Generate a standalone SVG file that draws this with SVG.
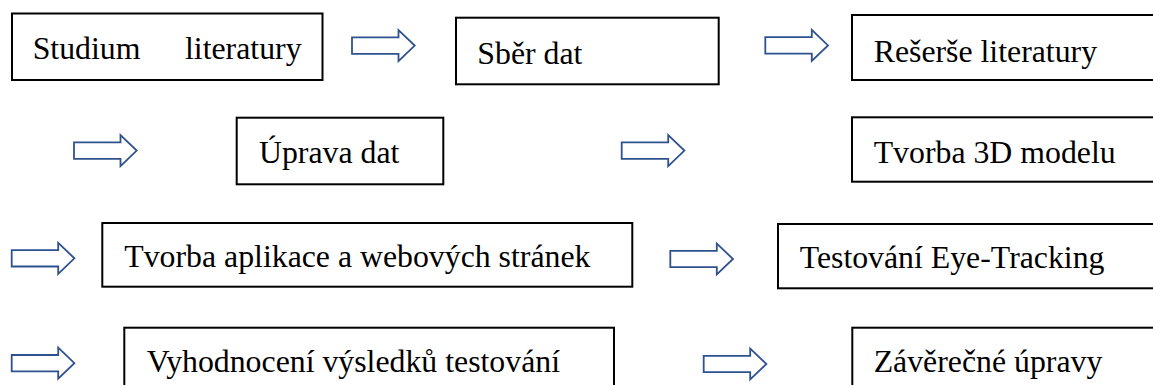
<svg xmlns="http://www.w3.org/2000/svg" xmlns:xlink="http://www.w3.org/1999/xlink" width="1153" height="385" viewBox="0 0 1153 385">
<style>
.box{fill:#fff;stroke:#000;stroke-width:2}
.lbl{font-family:"Liberation Serif","Times New Roman",serif;font-size:31.8px;fill:#000}
.arr{fill:#fff;stroke:#2F528F;stroke-width:1.8;stroke-linejoin:miter}
</style>
<defs>
<path id="arrow" d="M0,-8.2 H46.5 V-15.5 L62.7,0 L46.5,15.5 V8.2 H0 Z"/>
</defs>
<rect width="1153" height="385" fill="#fff"/>
<g id="connectors">
<use xlink:href="#arrow" class="arr" x="352" y="45.6"/>
<use xlink:href="#arrow" class="arr" x="765.3" y="45.4"/>
<use xlink:href="#arrow" class="arr" x="74" y="150.6"/>
<use xlink:href="#arrow" class="arr" x="621.7" y="150.6"/>
<use xlink:href="#arrow" class="arr" x="11.7" y="258.3"/>
<use xlink:href="#arrow" class="arr" x="670.3" y="259"/>
<use xlink:href="#arrow" class="arr" x="11.7" y="363.2"/>
<use xlink:href="#arrow" class="arr" x="703.7" y="364"/>
</g>
<g id="n1"><rect class="box" x="12" y="13.5" width="310.5" height="66.5"/><text class="lbl" y="59.3"><tspan x="32.7">Studium</tspan><tspan x="185">literatury</tspan></text></g>
<g id="n2"><rect class="box" x="456" y="17.7" width="262.7" height="66.6"/><text class="lbl" x="477.3" y="63.5">Sběr dat</text></g>
<g id="n3"><rect class="box" x="852" y="15" width="320" height="65"/><text class="lbl" x="873.7" y="61.7">Rešerše literatury</text></g>
<g id="n4"><rect class="box" x="236.7" y="117.7" width="206.6" height="66.6"/><text class="lbl" x="259" y="163.3">Úprava dat</text></g>
<g id="n5"><rect class="box" x="852" y="117.3" width="320" height="64.4"/><text class="lbl" x="873.7" y="163.3">Tvorba 3D modelu</text></g>
<g id="n6"><rect class="box" x="102.3" y="223" width="530" height="63.7"/><text class="lbl" x="124.3" y="267.3">Tvorba aplikace a webových stránek</text></g>
<g id="n7"><rect class="box" x="778" y="224" width="400" height="64.3"/><text class="lbl" x="799.7" y="268.3">Testování Eye-Tracking</text></g>
<g id="n8"><rect class="box" x="124.3" y="327.7" width="489.7" height="80"/><text class="lbl" x="146.7" y="371.7">Vyhodnocení výsledků testování</text></g>
<g id="n9"><rect class="box" x="852.3" y="327.7" width="320" height="80"/><text class="lbl" x="873.7" y="371.7">Závěrečné úpravy</text></g>
</svg>
